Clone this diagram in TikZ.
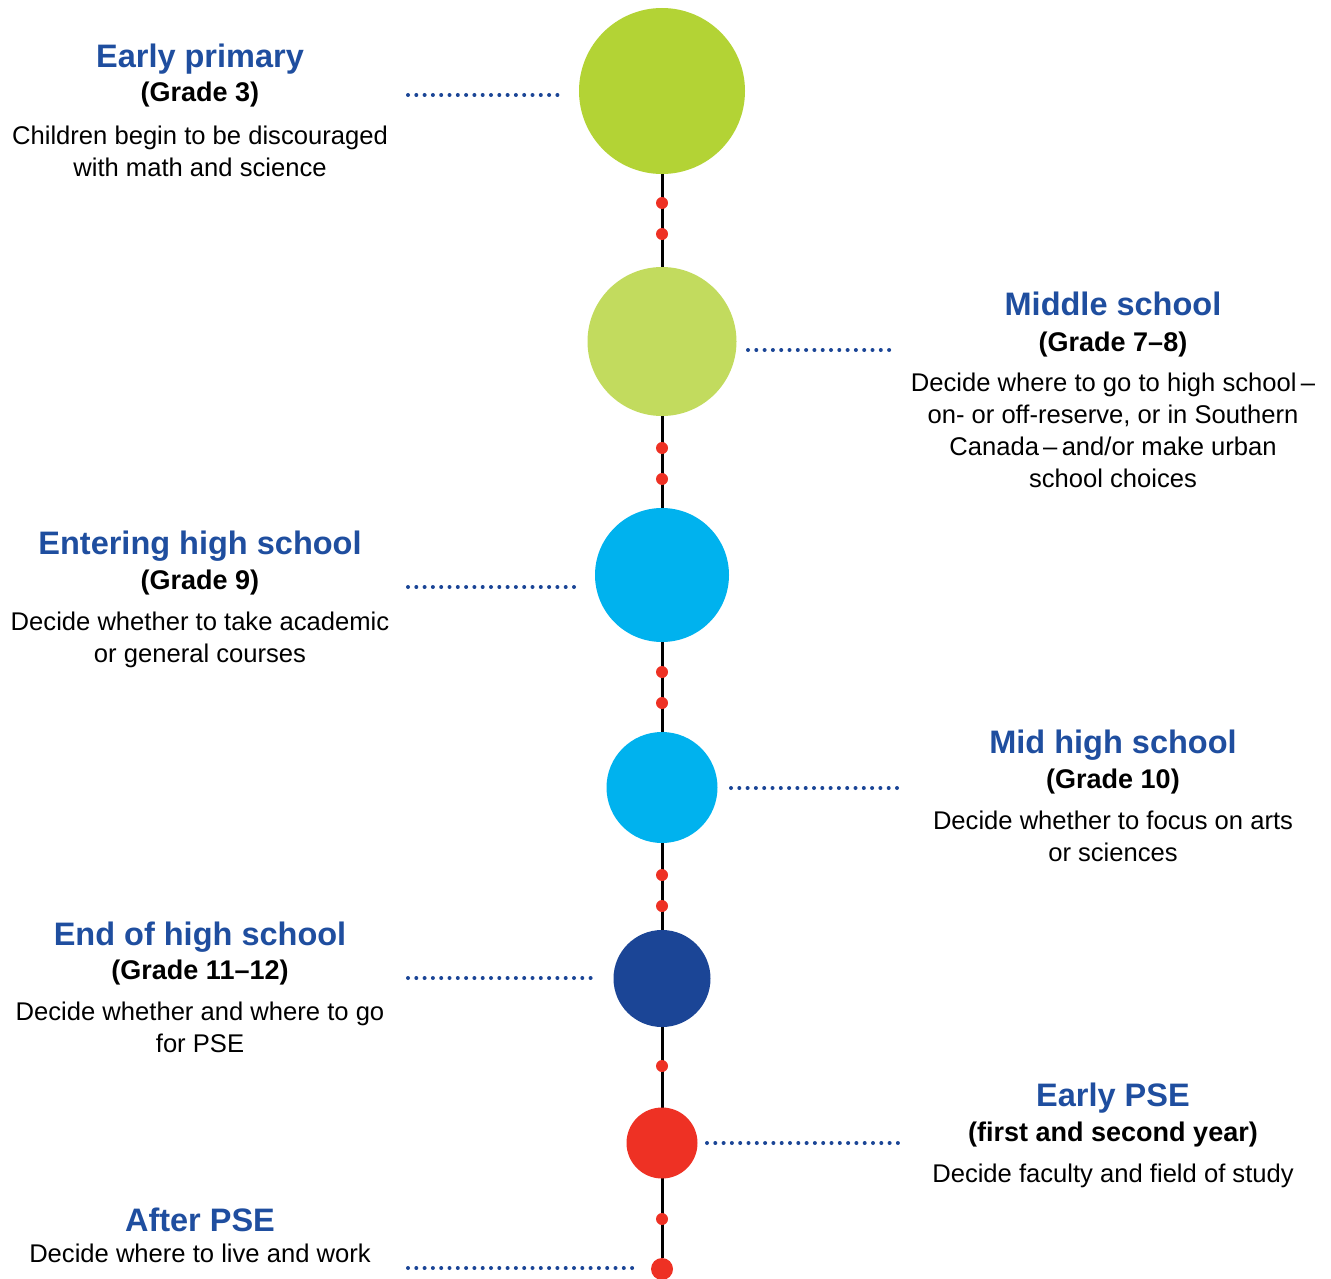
\documentclass[tikz,border=0pt]{standalone}
\usepackage{fontspec}
\setmainfont{Liberation Sans}
\usetikzlibrary{positioning,backgrounds}

\definecolor{limegreen}{HTML}{B3D335}
\definecolor{palegreen}{HTML}{C2DB5E}
\definecolor{skyblue}{HTML}{00B2EE}
\definecolor{navyblue}{HTML}{1B4596}
\definecolor{titleblue}{HTML}{1F4E9F}
\definecolor{dotred}{HTML}{EE3124}

\begin{document}
\begin{tikzpicture}[x=1pt, y=-1pt,
  stage/.style={circle, fill=#1, inner sep=0pt},
  reddot/.style={circle, fill=dotred, inner sep=0pt, minimum size=12pt},
  spine/.style={line width=3pt, black},
  leader/.style={navyblue, line width=4pt, line cap=round, dash pattern=on 0pt off 8.3pt},
  heading/.style={anchor=base, inner sep=0pt, text=titleblue, font=\bfseries\fontsize{32.5}{36}\selectfont},
  grade/.style={anchor=base, inner sep=0pt, font=\bfseries\fontsize{27}{32}\selectfont},
  body/.style={anchor=base, inner sep=0pt, align=center, font=\fontsize{25.6}{32}\selectfont}]
\useasboundingbox (0,0) rectangle (1331,1279);

% stages on the timeline
\node[stage=limegreen, minimum size=166pt] (c1) at (662,91) {};
\node[stage=palegreen, minimum size=149pt] (c2) at (662,341.5) {};
\node[stage=skyblue, minimum size=134pt] (c3) at (662,575) {};
\node[stage=skyblue, minimum size=111pt] (c4) at (662,787.5) {};
\node[stage=navyblue, minimum size=97pt] (c5) at (662,978.5) {};
\node[stage=dotred, minimum size=71pt] (c6) at (662,1143) {};
\node[stage=dotred, minimum size=22pt] (c7) at (662,1269) {};

\begin{scope}[on background layer]
\draw[spine] (c1) -- (c7);
\end{scope}

\foreach \y [count=\i] in {203,234,448,479,672,703,875,906,1066,1219}
  \node[reddot] (d\i) at (662,\y) {};

% dotted leaders
\foreach \a/\b/\y [count=\i] in {408/563/95, 748/896/350, 408/578/587, 731/903/788,
    408/596/978, 707/902/1143, 408/640/1268}{
  \coordinate (la\i) at (\a,\y);
  \coordinate (lb\i) at (\b,\y);
  \draw[leader] (la\i) -- (lb\i);
}

% left column (body nodes sit on their last line)
\node[heading] (t1) at (200,68) {Early primary};
\node[grade] (g1) at (200,102) {(Grade 3)};
\node[body] (b1) at (200,176) {Children begin to be discouraged\\with math and science};

\node[heading] (t3) at (200,554) {Entering high school};
\node[grade] (g3) at (200,589) {(Grade 9)};
\node[body] (b3) at (200,662.5) {Decide whether to take academic\\or general courses};

\node[heading] (t5) at (200,945) {End of high school};
\node[grade] (g5) at (200,979) {(Grade 11–12)};
\node[body] (b5) at (200,1052.5) {Decide whether and where to go\\for PSE};

\node[heading] (t7) at (200,1231) {After PSE};
\node[body] (b7) at (200,1262) {Decide where to live and work};

% right column
\node[heading] (t2) at (1113,315.5) {Middle school};
\node[grade] (g2) at (1113,351.5) {(Grade 7–8)};
\node[body] (b2) at (1113,487.5) {Decide where to go to high school\,–\\on- or off-reserve, or in Southern\\Canada\,–\,and/or make urban\\school choices};

\node[heading] (t4) at (1113,753) {Mid high school};
\node[grade] (g4) at (1113,788) {(Grade 10)};
\node[body] (b4) at (1113,861.5) {Decide whether to focus on arts\\or sciences};

\node[heading] (t6) at (1113,1106) {Early PSE};
\node[grade] (g6) at (1113,1141) {(first and second year)};
\node[body] (b6) at (1113,1182.5) {Decide faculty and field of study};
\end{tikzpicture}
\end{document}
